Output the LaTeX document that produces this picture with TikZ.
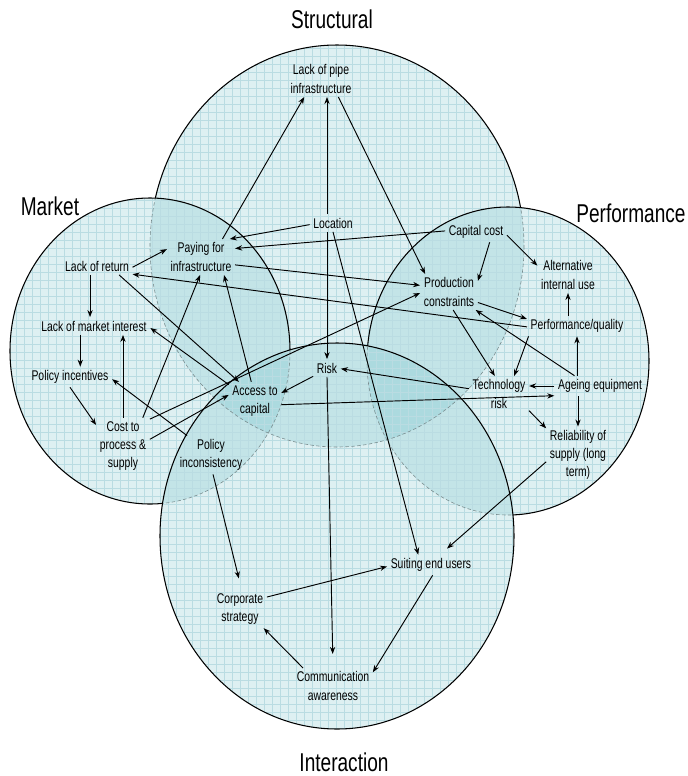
\documentclass[tikz,border=0pt]{standalone}
\usepackage{fontspec}
\setmainfont{Liberation Sans}[FakeStretch=0.74]
\usetikzlibrary{arrows.meta}

\definecolor{zonefill}{RGB}{72,172,183}
\definecolor{gridblue}{RGB}{186,220,226}
\definecolor{rimgrey}{RGB}{120,140,142}

\newcommand{\structzone}{(337,246) ellipse [x radius=187, y radius=201]}
\newcommand{\marketzone}{(150,351) ellipse [x radius=140, y radius=153]}
\newcommand{\perfzone}{(508,361) ellipse [x radius=141, y radius=154]}
\newcommand{\interzone}{(337,536) ellipse [x radius=177, y radius=193]}

\begin{document}
\begin{tikzpicture}[x=0.03cm, y=-0.03cm, >={Stealth[length=6pt, width=4.5pt]}, font=\fontsize{12}{15.5}\selectfont]
    \tikzset{item/.style={align=center, inner sep=3pt},
             head/.style={font=\fontsize{22}{26}\selectfont},
             link/.style={->, line width=0.8pt},
             zone/.style={fill=zonefill, fill opacity=0.18},
             gridline/.style={draw=gridblue, line width=0.3pt},
             rim/.style={draw=black, line width=0.9pt},
             hidden/.style={draw=rimgrey, line width=0.5pt, dash pattern=on 3pt off 2pt},
             clip even odd rule/.code={\pgfseteorule}}
    \useasboundingbox (0,0) rectangle (687,776);

    \fill[zone] \structzone;
    \fill[zone] \marketzone;
    \fill[zone] \perfzone;
    \fill[zone] \interzone;

    \begin{scope}
        \clip \structzone \marketzone \perfzone \interzone;
        \foreach \g in {0,8,...,688} \draw[gridline] (\g,0) -- (\g,776);
        \foreach \g in {0,8,...,776} \draw[gridline] (0,\g) -- (687,\g);
    \end{scope}

    \begin{scope}
        \clip[clip even odd rule] (-10,-10) rectangle (700,790) \marketzone;
        \clip[clip even odd rule] (-10,-10) rectangle (700,790) \perfzone;
        \clip[clip even odd rule] (-10,-10) rectangle (700,790) \interzone;
        \draw[rim] \structzone;
    \end{scope}
    \begin{scope}
        \clip \marketzone \perfzone \interzone;
        \draw[hidden] \structzone;
    \end{scope}

    \begin{scope}
        \clip[clip even odd rule] (-10,-10) rectangle (700,790) \interzone;
        \draw[rim] \marketzone;
        \draw[rim] \perfzone;
    \end{scope}
    \begin{scope}
        \clip \interzone;
        \draw[hidden] \marketzone;
        \draw[hidden] \perfzone;
    \end{scope}

    \draw[rim] \interzone;

    \node[head] (structural) at (332,19) {Structural};
    \node[head] (market) at (50,206) {Market};
    \node[head] (performance) at (631,213) {Performance};
    \node[head] (interaction) at (344,762) {Interaction};

    \node[item] (pipe) at (321,79) {Lack of pipe\\infrastructure};
    \node[item] (loc) at (333,223) {Location};
    \node[item] (pay) at (201,257) {Paying for\\infrastructure};
    \node[item] (capcost) at (476,232) {Capital cost};
    \node[item] (altuse) at (568,275) {Alternative\\internal use};
    \node[item] (prod) at (449,292) {Production\\constraints};
    \node[item] (perf) at (577,326) {Performance/quality};
    \node[item] (techrisk) at (499,394) {Technology\\risk};
    \node[item] (ageing) at (600,386) {Ageing equipment};
    \node[item] (reliab) at (578,455) {Reliability of\\supply (long\\term)};
    \node[item] (lackret) at (97,266) {Lack of return};
    \node[item] (lackint) at (94,326) {Lack of market interest};
    \node[item] (polinc) at (70,377) {Policy incentives};
    \node[item] (cost) at (123,446) {Cost to\\process \&\\supply};
    \node[item] (polincon) at (211,455) {Policy\\inconsistency};
    \node[item] (access) at (255,401) {Access to\\capital};
    \node[item] (risk) at (327,368) {Risk};
    \node[item] (suit) at (431,565) {Suiting end users};
    \node[item] (corp) at (240,609) {Corporate\\strategy};
    \node[item] (comm) at (333,686) {Communication\\awareness};

    \draw[link] (pay.40) -- (pipe.227);
    \draw[link] (risk |- loc.north) -- (risk |- pipe.south);
    \draw[link] (risk |- loc.south) -- (risk.north);
    \draw[link] (pipe.314) -- (prod.143);
    \draw[link] (loc.184) -- (pay.32);
    \draw[link] (capcost.178) -- (pay.14);
    \draw[link] (capcost.323) -- (prod.21);
    \draw[link] (capcost.354) -- (altuse.163);
    \draw[link] (pay.347) -- (prod.167);
    \draw[link] (perf.181) -- (lackret.347);
    \draw[link] (lackret.358) -- (pay.167);

    \draw[link] (cost.45) -- (prod.182);
    \draw[link] (cost.14) -- (access.167);
    \draw[link] (cost.55) -- (pay.267);
    \draw[link] (cost.north) -- (cost.north |- lackint.south);
    \draw[link] (lackret.232) -- (lackret.232 |- lackint.north);
    \draw[link] (lackint.213) -- (lackint.213 |- polinc.north);
    \draw[link] (polinc.south) -- (cost.142);
    \draw[link] (polincon.141) -- (polinc.357);
    \draw[link] (lackret.338) -- (access.130);
    \draw[link] (access.148) -- (lackint.358);
    \draw[link] (access.101) -- (pay.322);
    \draw[link] (risk.211) -- (access.17);
    \draw[link] (access.352) -- (ageing.192);
    \draw[link] (techrisk.170) -- (risk.357);

    \draw[link] (loc.south) -- (suit.141);
    \draw[link, shorten >=12pt] (risk.south) -- (comm.north);
    \draw[link] (suit.279) -- (comm.19);
    \draw[link] (comm.149) -- (corp.321);
    \draw[link] (corp.24) -- (suit.182);
    \draw[link, shorten >=10pt] (polincon.276) -- (corp.85);
    \draw[link, shorten >=8pt] (reliab.192) -- (suit.49);

    \draw[link] (techrisk.331) -- (reliab.140);
    \draw[link] (reliab |- ageing.south) -- (reliab.north);
    \draw[link] (ageing.west) -- (ageing.west -| techrisk.east);
    \draw[link] (perf |- ageing.north) -- (perf.south);
    \draw[link] (altuse |- perf.north) -- (altuse.south);
    \draw[link] (prod.340) -- (perf.172);
    \draw[link] (ageing.158) -- (prod.326);
    \draw[link] (prod.283) -- (techrisk.103);
    \draw[link] (perf.192) -- (techrisk.50);
\end{tikzpicture}
\end{document}
